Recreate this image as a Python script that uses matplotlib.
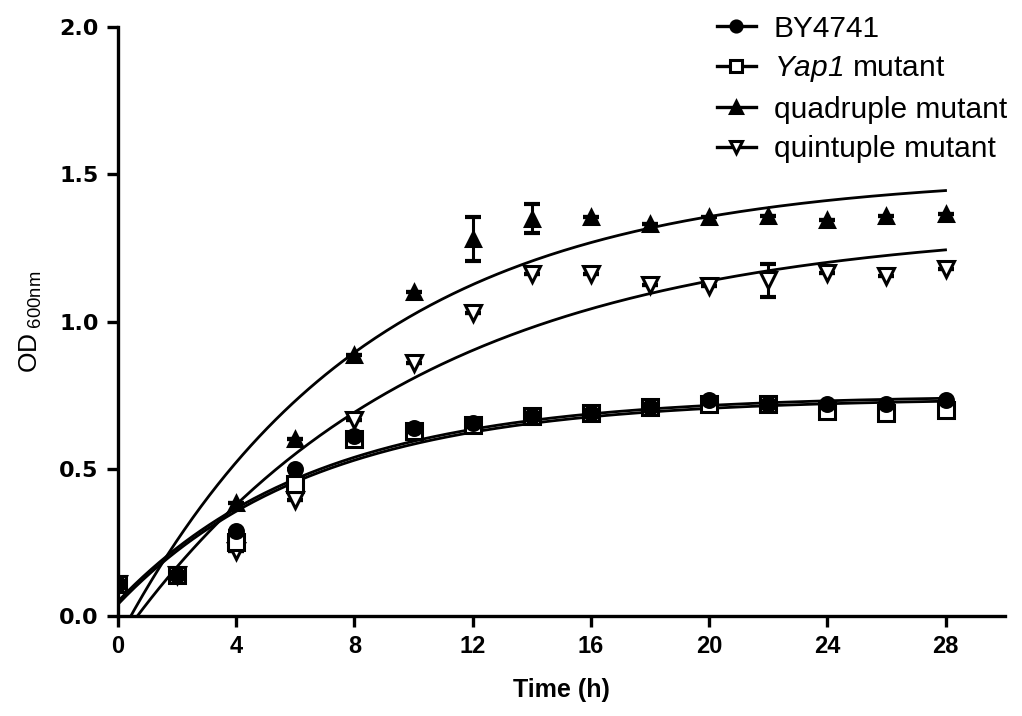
import numpy as np
import matplotlib
matplotlib.use("Agg")
import matplotlib.pyplot as plt

plt.rcParams['font.family'] = ['Liberation Sans', 'DejaVu Sans']
plt.rcParams['mathtext.fontset'] = 'custom'
plt.rcParams['mathtext.rm'] = 'Liberation Sans:italic'
plt.rcParams['mathtext.it'] = 'Liberation Sans:italic'
plt.rcParams['mathtext.sf'] = 'Liberation Sans'

# sampling times (h)
time_h = [0, 2, 4, 6, 8, 10, 12, 14, 16, 18, 20, 22, 24, 26, 28]

# OD600 readings
by4741 = [0.11, 0.14, 0.29, 0.50, 0.61, 0.64, 0.655, 0.68, 0.69, 0.71, 0.735, 0.72, 0.72, 0.72, 0.735]
yap1 = [0.11, 0.14, 0.25, 0.45, 0.60, 0.63, 0.65, 0.68, 0.69, 0.71, 0.72, 0.72, 0.695, 0.69, 0.70]
quadruple = [0.11, 0.14, 0.385, 0.60, 0.885, 1.10, 1.28, 1.35, 1.355, 1.33, 1.355, 1.36, 1.345, 1.36, 1.365]
quintuple = [0.11, 0.14, 0.22, 0.395, 0.665, 0.86, 1.03, 1.16, 1.16, 1.125, 1.12, 1.14, 1.165, 1.155, 1.18]

# standard errors (only visible ones)
by4741_err = [0] * 15
yap1_err = [0] * 15
quadruple_err = [0, 0, 0, 0, 0, 0, 0.075, 0.05, 0, 0, 0, 0, 0, 0, 0]
quintuple_err = [0, 0, 0, 0, 0, 0, 0, 0, 0, 0, 0, 0.055, 0, 0, 0]

# one-phase association fits: Y0, plateau, K
fit_y0 = [0.05, 0.04, -0.08, -0.09]
fit_plateau = [0.75, 0.74, 1.50, 1.33]
fit_k = [0.15, 0.15, 0.12, 0.10]

labels = ['BY4741', r'$\mathit{Yap1}$ mutant', 'quadruple mutant', 'quintuple mutant']
series = [by4741, yap1, quadruple, quintuple]
errors = [by4741_err, yap1_err, quadruple_err, quintuple_err]
markers = ['o', 's', '^', 'v']
faces = ['black', 'white', 'black', 'white']
sizes = [10, 11, 10, 11]
zorders = [6, 5, 4, 3]

fig = plt.figure(figsize=(10.22, 7.16), dpi=100)
ax = fig.add_axes([0.1155, 0.1397, 0.8675, 0.8223])

t = np.array(time_h, dtype=float)
t_fit = np.linspace(0, 28, 300)

handles = []
for i in range(4):
    y = np.array(series[i])
    ax.errorbar(t, y, yerr=errors[i], fmt='none', ecolor='black',
                elinewidth=2.2, capsize=6, capthick=3, zorder=zorders[i])
    ax.plot(t, y, linestyle='none', marker=markers[i], markersize=sizes[i],
            markerfacecolor=faces[i], markeredgecolor='black',
            markeredgewidth=2.2, zorder=zorders[i])
    curve = fit_y0[i] + (fit_plateau[i] - fit_y0[i]) * (1 - np.exp(-fit_k[i] * t_fit))
    ax.plot(t_fit, curve, color='black', linewidth=2, zorder=2)
    h, = ax.plot([], [], color='black', linewidth=2.4, marker=markers[i],
                 markersize=8, markerfacecolor=faces[i],
                 markeredgecolor='black', markeredgewidth=2.2)
    handles.append(h)

ax.set_xlim(0, 30)
ax.set_ylim(0, 2.0)
ax.set_xticks([0, 4, 8, 12, 16, 20, 24, 28])
ax.set_yticks([0.0, 0.5, 1.0, 1.5, 2.0])
ax.set_yticklabels(['0.0', '0.5', '1.0', '1.5', '2.0'])

for s in ['top', 'right']:
    ax.spines[s].set_visible(False)
for s in ['left', 'bottom']:
    ax.spines[s].set_linewidth(2.4)
ax.tick_params(axis='both', direction='out', length=8, width=2.4, pad=6)
for lab in ax.get_xticklabels():
    lab.set_fontweight('bold')
    lab.set_fontsize(17)
for lab in ax.get_yticklabels():
    lab.set_family('DejaVu Sans')
    lab.set_fontweight('bold')
    lab.set_fontsize(16)

ax.set_xlabel('Time (h)', fontsize=18, fontweight='bold', labelpad=14)
ax.set_ylabel(r'OD$_{\mathsf{\ 600nm}}$', fontsize=19)
ax.yaxis.set_label_coords(-0.083, 0.5)

fig.legend(handles, labels, loc='upper left', bbox_to_anchor=(0.687, 1.0),
           frameon=False, fontsize=21.5, handlelength=1.3, handletextpad=0.6,
           labelspacing=0.38, borderaxespad=0.1)

fig.savefig('out.png', dpi=100)
